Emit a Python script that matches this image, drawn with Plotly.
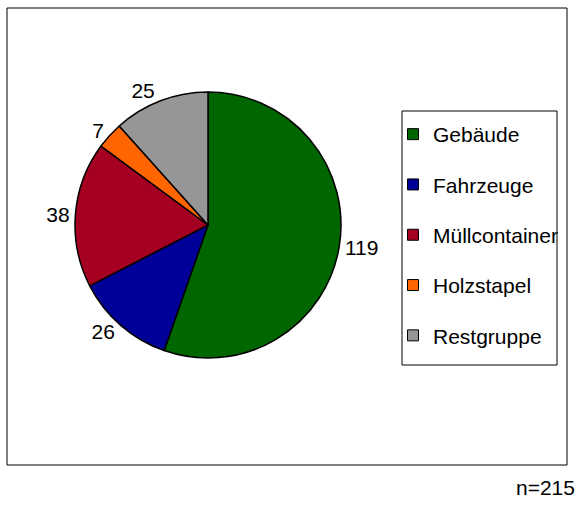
import plotly.graph_objects as go

categories = ["Gebäude", "Fahrzeuge", "Müllcontainer", "Holzstapel", "Restgruppe"]
counts = [119, 26, 38, 7, 25]
colors = ["#006600", "#000099", "#A50021", "#FF6600", "#969696"]
total_label = "n=215"

W, H = 577, 505
FONT = "Liberation Sans, Arial, sans-serif"

fig = go.Figure()

fig.add_trace(
    go.Pie(
        labels=categories,
        values=counts,
        marker=dict(colors=colors, line=dict(color="black", width=1.5)),
        sort=False,
        direction="clockwise",
        rotation=0,
        textinfo="value",
        textposition="outside",
        textfont=dict(size=21, color="black", family=FONT),
        showlegend=False,
        hoverinfo="label+value+percent",
        domain=dict(x=[75 / W, 341 / W], y=[1 - 358 / H, 1 - 92 / H]),
    )
)

# legend entries as separate groups so the spacing can be opened up
for cat, col in zip(categories, colors):
    fig.add_trace(
        go.Scatter(
            x=[None],
            y=[None],
            mode="markers",
            name=cat,
            legendgroup=cat,
            marker=dict(symbol="square", size=11, color=col,
                        line=dict(color="black", width=1)),
        )
    )

fig.update_layout(
    width=W,
    height=H,
    margin=dict(l=0, r=0, t=0, b=0),
    paper_bgcolor="white",
    plot_bgcolor="white",
    font=dict(family=FONT, color="black"),
    xaxis=dict(visible=False),
    yaxis=dict(visible=False),
    legend=dict(
        x=393 / W,
        y=1 - 114 / H,
        xanchor="left",
        yanchor="top",
        font=dict(size=21, family=FONT),
        bgcolor="rgba(0,0,0,0)",
        borderwidth=0,
        tracegroupgap=20,
        itemclick=False,
    ),
    shapes=[
        # outer chart frame
        dict(type="rect", xref="paper", yref="paper",
             x0=7 / W, x1=567 / W, y0=1 - 465 / H, y1=1 - 8 / H,
             line=dict(color="black", width=1)),
        # legend frame
        dict(type="rect", xref="paper", yref="paper",
             x0=402 / W, x1=557 / W, y0=1 - 365 / H, y1=1 - 111 / H,
             line=dict(color="black", width=1)),
    ],
    annotations=[
        dict(text=total_label, xref="paper", yref="paper",
             x=1, y=4 / H, xanchor="right", yanchor="bottom",
             showarrow=False, font=dict(size=21, family=FONT)),
    ],
)

fig.write_html(
    "out.html",
    config={"displayModeBar": False},
    post_script="document.body.style.margin='0';",
)
